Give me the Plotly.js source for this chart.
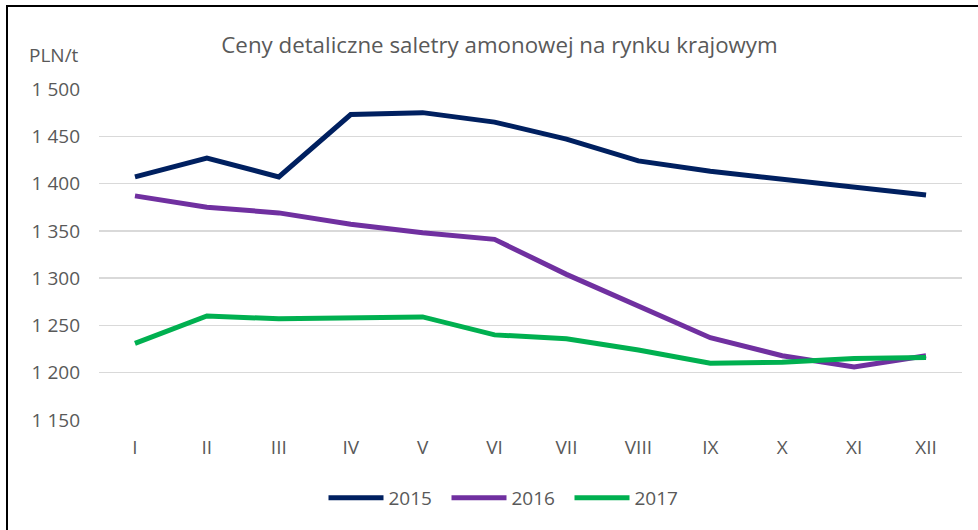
<!DOCTYPE html>
<html>
<head>
<meta charset="utf-8">
<script src="https://cdn.plot.ly/plotly-3.0.1.min.js"></script>
<style>
html, body { margin: 0; padding: 0; background: #fff; }
#wrap { position: relative; width: 978px; height: 530px; overflow: hidden; }
#chart { position: absolute; left: 0; top: 0; width: 978px; height: 530px; }
#frame { position: absolute; left: 6px; top: 5px; width: 1100px; height: 1100px; border: 2px solid #000; pointer-events: none; box-sizing: border-box; }
</style>
</head>
<body>
<div id="wrap">
<div id="chart"></div>
<div id="frame"></div>
</div>
<script>
const months = ["I","II","III","IV","V","VI","VII","VIII","IX","X","XI","XII"];
const years = ["2015","2016","2017"];
const prices2015 = [1407, 1427, 1407, 1473, 1475, 1465, 1447, 1424, 1413, 1405, 1396, 1388];
const prices2016 = [1387, 1375, 1369, 1357, 1348, 1341, 1304, 1270, 1237, 1218, 1206, 1218];
const prices2017 = [1231, 1260, 1257, 1258, 1259, 1240, 1236, 1224, 1210, 1211, 1215, 1216];
const colors = ["#002060", "#7030A0", "#00B050"];
const series = [prices2015, prices2016, prices2017];

const font = "'Open Sans', sans-serif";
const grey = "#595959";

const traces = series.map((vals, i) => ({
  type: "scatter",
  mode: "lines",
  name: years[i],
  x: months,
  y: vals,
  line: { color: colors[i], width: 5 },
  hoverinfo: "skip"
}));

const layout = {
  width: 978,
  height: 530,
  margin: { l: 99, r: 16, t: 89, b: 110 },
  paper_bgcolor: "#fff",
  plot_bgcolor: "#fff",
  separators: ", ",
  font: { family: font, color: grey, size: 19 },
  title: {
    text: "Ceny detaliczne saletry amonowej na rynku krajowym",
    font: { family: font, size: 22.3, color: grey },
    xref: "container", yref: "container",
    x: 499.5 / 978, xanchor: "center",
    y: 1 - 45 / 530, yanchor: "middle"
  },
  xaxis: {
    type: "category",
    categoryorder: "array",
    categoryarray: months,
    range: [-0.5, 11.5],
    showgrid: false,
    zeroline: false,
    showline: false,
    ticks: "",
    ticklabelstandoff: 14,
    tickfont: { family: font, size: 19, color: grey },
    fixedrange: true
  },
  yaxis: {
    range: [1150, 1500],
    tick0: 1150,
    dtick: 50,
    tickformat: ",d",
    showgrid: true,
    gridcolor: "#d9d9d9",
    gridwidth: 1.5,
    zeroline: false,
    showline: false,
    ticks: "",
    ticklabelstandoff: 18,
    tickfont: { family: font, size: 19, color: grey },
    fixedrange: true
  },
  showlegend: true,
  legend: {
    orientation: "h",
    xref: "container", yref: "container",
    x: 508 / 978, xanchor: "center",
    y: 1 - 498 / 530, yanchor: "middle",
    font: { family: font, size: 19, color: grey },
    itemwidth: 55,
    entrywidth: 53,
    entrywidthmode: "pixels",
    tracegroupgap: 0
  },
  annotations: [{
    text: "PLN/t",
    xref: "paper", yref: "paper",
    x: (27 - 99) / 863, xanchor: "left",
    y: (420 - 55) / 331, yanchor: "middle",
    showarrow: false,
    font: { family: font, size: 19, color: grey }
  }]
};

Plotly.newPlot("chart", traces, layout, { staticPlot: true, displayModeBar: false });
</script>
</body>
</html>
